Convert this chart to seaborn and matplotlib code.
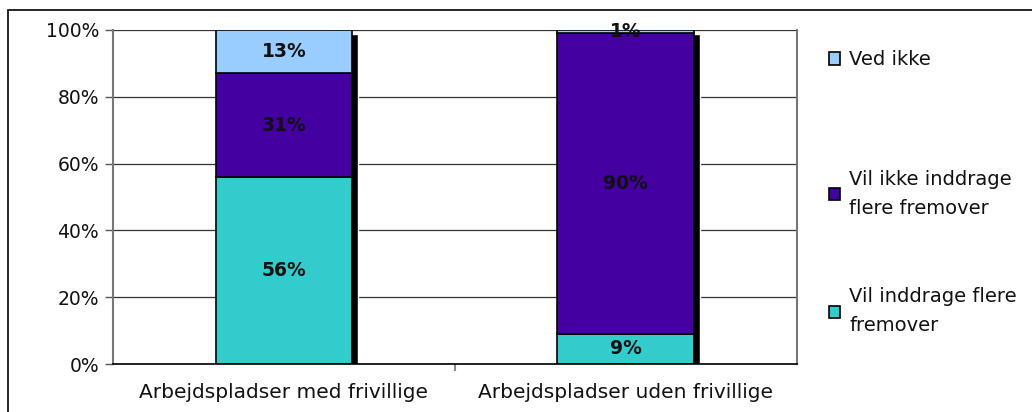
import seaborn as sns
import matplotlib.pyplot as plt
import matplotlib.transforms as mtransforms
import pandas as pd
from matplotlib.patches import Patch

# data
categories = ['Arbejdspladser med frivillige', 'Arbejdspladser uden frivillige']
series = ['Vil inddrage flere\nfremover', 'Vil ikke inddrage\nflere fremover', 'Ved ikke']
vil_inddrage = [56, 9]
vil_ikke = [31, 90]
ved_ikke = [13, 1]
colors = ['#33CCCC', '#4400A0', '#99CCFF']

values = [vil_inddrage, vil_ikke, ved_ikke]

sns.set_style('white')
plt.rcParams['font.family'] = ['DejaVu Sans']

fig = plt.figure(figsize=(10.32, 4.12), dpi=100)
ax = fig.add_axes([0.1095, 0.1165, 0.6625, 0.8107])

# figure frame (partly cropped in the original)
fig.patches.append(plt.Rectangle((0.008, -0.05), 1.2, 1.025, transform=fig.transFigure,
                                 fill=False, edgecolor='black', linewidth=1.2, clip_on=False))

# shadow bars behind the stack
totals = [sum(v) for v in zip(*values)]
df_tot = pd.DataFrame({'cat': categories, 'val': totals})
sns.barplot(data=df_tot, x='cat', y='val', color='black', width=0.4, ax=ax,
            saturation=1, zorder=1)
shadow_tr = mtransforms.offset_copy(ax.transData, fig=fig, x=6, y=-4, units='dots')
for p in ax.patches:
    p.set_transform(shadow_tr)

bottom = [0, 0]
for name, vals, col in zip(series, values, colors):
    d = pd.DataFrame({'cat': categories, 'val': vals})
    n0 = len(ax.patches)
    sns.barplot(data=d, x='cat', y='val', color=col, width=0.4, ax=ax, saturation=1,
                bottom=bottom, edgecolor='black', linewidth=1.2, zorder=2)
    for p, v, b in zip(ax.patches[n0:], vals, bottom):
        ax.text(p.get_x() + p.get_width() / 2, b + v / 2, f'{v}%', ha='center', va='center',
                fontsize=13.5, fontweight='bold', color='#111111', zorder=5)
    bottom = [b + v for b, v in zip(bottom, vals)]

ax.set_ylim(0, 100)
ax.set_xlim(-0.5, 1.5)
ax.set_yticks(range(0, 101, 20))
ax.set_yticklabels([f'{t}%' for t in range(0, 101, 20)], fontsize=13.5, color='#111111')
ax.set_xticks([0.5])
ax.set_xticklabels([''])
for i, c in enumerate(categories):
    ax.text(i, -8.5, c, ha='center', va='center', fontsize=14.5, color='#111111')
ax.tick_params(axis='y', length=6, width=1, color='#555555', pad=4, left=True)
ax.tick_params(axis='x', length=5, width=1.5, color='#888888', bottom=True)
ax.yaxis.grid(True, color='#333333', linewidth=0.9)
ax.set_axisbelow(True)
ax.set_xlabel('')
ax.set_ylabel('')
for s in ['left', 'right']:
    ax.spines[s].set_color('#777777')
    ax.spines[s].set_linewidth(1.5)
ax.spines['bottom'].set_color('black')
ax.spines['bottom'].set_linewidth(1.2)
ax.spines['top'].set_visible(False)

# legend entries, placed one by one (uneven spacing in the original)
legend_y = [0.855, 0.53, 0.245]
for lbl, col, y in zip(series[::-1], colors[::-1], legend_y):
    h = Patch(facecolor=col, edgecolor='black', linewidth=1.2)
    leg = fig.legend([h], [lbl], loc='center left', bbox_to_anchor=(0.786, y),
                     frameon=False, fontsize=14, handlelength=0.6, handleheight=0.6,
                     handletextpad=0.45, labelcolor='#111111')
    for t in leg.get_texts():
        t.set_linespacing(1.65)

fig.savefig('out.png', dpi=100)
